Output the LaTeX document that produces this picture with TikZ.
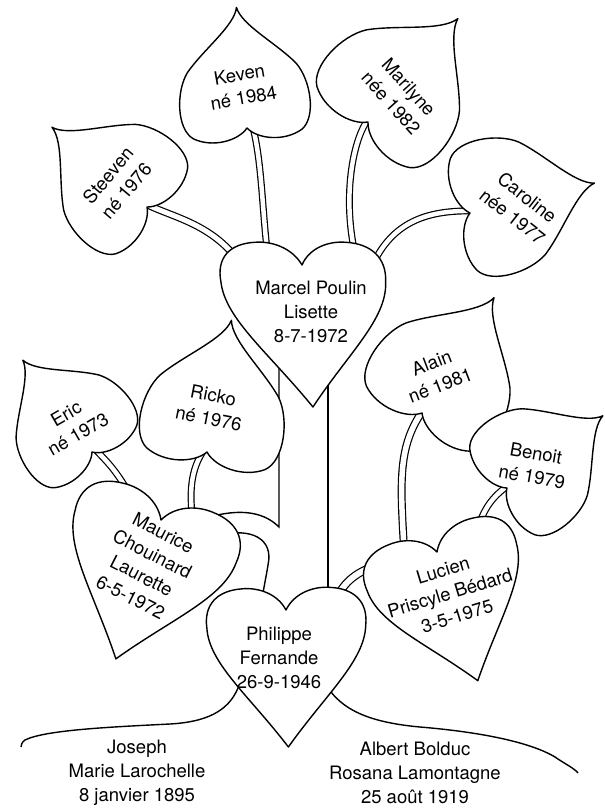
\documentclass[tikz,border=0pt]{standalone}
\usepackage{fontspec}
\setmainfont{TeX Gyre Heros}

\tikzset{
  outline/.style={draw, fill=white, line width=1.4pt, line join=round},
  stem/.style={draw, line width=1.2pt, double=white, double distance=4.5pt},
  branch/.style={draw, line width=1.4pt},
  txt/.style={align=center, inner sep=0pt, font=\fontsize{18.5}{24}\selectfont},
  leaf/.pic={
    \path[outline] (0,0) .. controls (0.08,-0.1) and (0.3,-0.14) .. (0.45,-0.05)
      .. controls (0.58,0.04) and (0.56,0.35) .. (0.45,0.5)
      .. controls (0.3,0.68) and (0.03,0.85) .. (0,1)
      .. controls (-0.03,0.85) and (-0.3,0.68) .. (-0.45,0.5)
      .. controls (-0.56,0.35) and (-0.58,0.04) .. (-0.45,-0.05)
      .. controls (-0.3,-0.14) and (-0.08,-0.1) .. (0,0) -- cycle;
  },
  heart/.pic={
    \path[outline] (0,0) .. controls (0.06,0.12) and (0.2,0.17) .. (0.32,0.16)
      .. controls (0.5,0.15) and (0.6,0.05) .. (0.58,-0.12)
      .. controls (0.57,-0.38) and (0.28,-0.62) .. (0,-1)
      .. controls (-0.28,-0.62) and (-0.57,-0.38) .. (-0.58,-0.12)
      .. controls (-0.6,0.05) and (-0.5,0.15) .. (-0.32,0.16)
      .. controls (-0.2,0.17) and (-0.06,0.12) .. (0,0) -- cycle;
  }
}

\begin{document}
\begin{tikzpicture}[x=1pt, y=1pt]
\useasboundingbox (0,0) rectangle (605,-809);

% where the stems start and end
\coordinate (kevenS) at (252,-124);
\coordinate (marcelK) at (268,-258);
\coordinate (marilyneS) at (369,-118);
\coordinate (marcelM) at (356,-258);
\coordinate (steevenS) at (148,-205);
\coordinate (marcelS) at (242,-266);
\coordinate (carolineS) at (474,-211);
\coordinate (marcelC) at (374,-262);
\coordinate (ericS) at (95,-449);
\coordinate (mauriceE) at (130,-495);
\coordinate (rickoS) at (206,-447);
\coordinate (mauriceR) at (193,-522);
\coordinate (alainS) at (424,-409);
\coordinate (lucienA) at (404,-548);
\coordinate (benoitS) at (510,-484);
\coordinate (lucienB) at (478,-528);
\coordinate (lucienP) at (376,-566);
\coordinate (philippeL) at (334,-606);
\coordinate (marcelW) at (279,-345);
\coordinate (marcelE) at (328,-370);
\coordinate (mauriceU) at (200,-520);
\coordinate (mauriceD) at (222,-535);
\coordinate (philippeN) at (262,-602);
\coordinate (philippeR) at (328,-600);
\coordinate (philippeW) at (238,-688);
\coordinate (philippeE) at (328,-688);
\coordinate (westend) at (21,-747);
\coordinate (eastend) at (578,-773);

% stems
\draw[stem] (kevenS) .. controls (262,-160) and (262,-210) .. (marcelK);
\draw[stem] (marilyneS) .. controls (352,-140) and (342,-200) .. (marcelM);
\draw[stem, double distance=5pt] (steevenS) .. controls (175,-218) and (215,-225) .. (marcelS);
\draw[stem] (carolineS) .. controls (430,-210) and (395,-220) .. (marcelC);
\draw[stem] (ericS) .. controls (105,-460) and (115,-468) .. (mauriceE);
\draw[stem] (rickoS) .. controls (193,-465) and (188,-485) .. (mauriceR);
\draw[stem, double distance=5.5pt] (alainS) .. controls (398,-445) and (400,-480) .. (lucienA);
\draw[stem] (benoitS) .. controls (495,-495) and (485,-505) .. (lucienB);
\draw[stem, double distance=6pt] (lucienP) .. controls (355,-572) and (340,-585) .. (philippeL);

% trunk and ground
\draw[branch] (mauriceU) .. controls (235,-508) and (262,-510) .. (279,-527) -- (marcelW);
\draw[branch] (mauriceD) .. controls (250,-528) and (274,-538) .. (268,-565)
  .. controls (266,-578) and (263,-590) .. (philippeN);
\draw[branch] (marcelE) -- (philippeR);
\draw[branch] (philippeW) .. controls (228,-712) and (205,-722) .. (170,-724)
  .. controls (110,-727) and (45,-730) .. (25,-740) .. controls (22,-742) and (21,-745) .. (westend);
\draw[branch] (philippeE) .. controls (342,-708) and (365,-722) .. (420,-727)
  .. controls (480,-732) and (530,-742) .. (555,-757) .. controls (565,-764) and (574,-768) .. (eastend);

% hearts
\pic (marcelheart) [scale=142, xslant=-0.077] at (302,-265) {heart};
\pic (mauriceheart) [rotate=-18, scale=146] at (161,-520) {heart};
\pic (lucienheart) [rotate=17.6, scale=135] at (437,-552) {heart};
\pic (philippeheart) [rotate=1, scale=137] at (286,-610) {heart};

% leaves
\pic (kevenleaf) [rotate=5, scale=121] at (247,-128) {leaf};
\pic (marilyneleaf) [rotate=-41, scale=137] at (368,-122) {leaf};
\pic (steevenleaf) [rotate=50, scale=124] at (147,-207) {leaf};
\pic (carolineleaf) [rotate=-76.5, scale=128] at (470,-213) {leaf};
\pic (ericleaf) [rotate=37, scale=115] at (92,-452) {leaf};
\pic (rickoleaf) [rotate=-10.5, scale=134] at (207,-452) {leaf};
\pic (alainleaf) [rotate=-32, scale=136] at (422,-413) {leaf};
\pic (benoitleaf) [rotate=-53, scale=120] at (507,-488) {leaf};

% names
\node[txt, rotate=10] (keven) at (241.5,-86) {Keven\\né 1984};
\node[txt, rotate=-48] (marilyne) at (400,-95) {Marilyne\\née 1982};
\node[txt, rotate=50] (steeven) at (117,-183) {Steeven\\né 1976};
\node[txt, rotate=-38] (caroline) at (520,-207) {Caroline\\née 1977};
\node[txt] (marcel) at (311,-312) {Marcel Poulin\\Lisette\\8-7-1972};
\node[txt, rotate=30] (eric) at (72,-424) {Eric\\né 1973};
\node[txt, rotate=-11] (ricko) at (211,-407) {Ricko\\né 1976};
\node[txt, rotate=21] (alain) at (436,-374) {Alain\\né 1981};
\node[txt, rotate=-10] (benoit) at (534,-465) {Benoit\\né 1979};
\node[txt, rotate=-27] (maurice) at (147,-565) {Maurice\\Chouinard\\Laurette\\6-5-1972};
\node[txt, rotate=17] (lucien) at (450,-593) {Lucien\\Priscyle Bédard\\3-5-1975};
\node[txt] (philippe) at (279,-658) {Philippe\\Fernande\\26-9-1946};
\node[txt] (joseph) at (137,-773) {Joseph\\Marie Larochelle\\8 janvier 1895};
\node[txt] (albert) at (415,-773) {Albert Bolduc\\Rosana Lamontagne\\25 août 1919};
\end{tikzpicture}
\end{document}
